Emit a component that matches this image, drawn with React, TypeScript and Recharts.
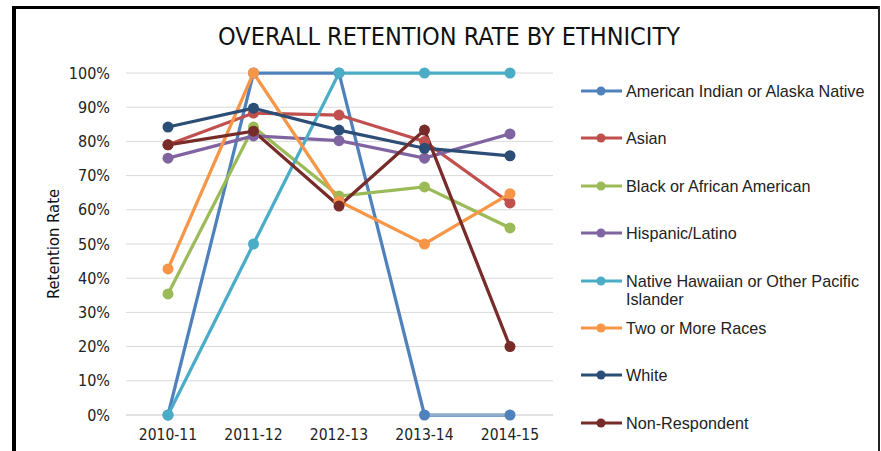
import React from 'react';
import { LineChart, Line, XAxis, YAxis, CartesianGrid, Legend } from 'recharts';

const years = ['2010-11', '2011-12', '2012-13', '2013-14', '2014-15'];
const americanIndian = [0, 100, 100, 0, 0];
const asian = [79, 88.3, 87.7, 80, 62];
const black = [35.4, 84.2, 64, 66.7, 54.7];
const hispanic = [75.1, 81.6, 80.2, 75.1, 82.2];
const nativeHawaiian = [0, 50, 100, 100, 100];
const twoOrMore = [42.7, 100, 62.5, 50, 64.7];
const white = [84.2, 89.7, 83.3, 78, 75.8];
const nonRespondent = [79, 83, 61.1, 83.3, 20];

const seriesNames = [
  'American Indian or Alaska Native',
  'Asian',
  'Black or African American',
  'Hispanic/Latino',
  'Native Hawaiian or Other Pacific Islander',
  'Two or More Races',
  'White',
  'Non-Respondent',
];
const seriesValues = [americanIndian, asian, black, hispanic, nativeHawaiian, twoOrMore, white, nonRespondent];
const seriesColors = ['#4F81BD', '#C0504D', '#9BBB59', '#8064A2', '#4BACC6', '#F79646', '#2C4D75', '#772C2A'];
const yTicks = [0, 10, 20, 30, 40, 50, 60, 70, 80, 90, 100];

const data = years.map((year, i) => {
  const row: Record<string, any> = { year };
  seriesValues.forEach((vals, s) => {
    row['s' + s] = vals[i];
  });
  return row;
});

const FONT = "'Liberation Sans Narrow', 'DejaVu Sans Condensed', 'Liberation Sans', sans-serif";
const LEGEND_FONT = "'Liberation Sans', 'DejaVu Sans', sans-serif";

const LegendContent = () => (
  <div style={{ position: 'relative', width: 300, height: 360 }}>
    {seriesNames.map((name, i) => (
      <div
        key={name}
        style={{
          position: 'absolute',
          left: 0,
          top: i * 47.4,
          display: 'flex',
          alignItems: 'flex-start',
        }}
      >
        <svg width={48} height={18} style={{ flex: 'none' }}>
          <line x1={3} y1={9} x2={44} y2={9} stroke={seriesColors[i]} strokeWidth={3} />
          <circle cx={23} cy={9} r={4.5} fill={seriesColors[i]} />
        </svg>
        <div
          style={{
            width: 252,
            fontFamily: LEGEND_FONT,
            fontSize: 16.2,
            lineHeight: '18px',
            color: '#222',
          }}
        >
          {name}
        </div>
      </div>
    ))}
  </div>
);

export default function App() {
  return (
    <div style={{ position: 'absolute', left: 0, top: 0, width: 881, height: 451, background: '#fff', overflow: 'hidden' }}>
      <div style={{ position: 'absolute', left: 12, top: 6, width: 4, height: 445, background: '#000' }} />
      <div style={{ position: 'absolute', left: 12, top: 6, width: 868, height: 3, background: '#000' }} />
      <div style={{ position: 'absolute', left: 878, top: 6, width: 2, height: 445, background: '#222' }} />
      <div
        style={{
          position: 'absolute',
          left: 0,
          top: 21,
          width: 898,
          textAlign: 'center',
          fontFamily: FONT,
          fontSize: 25,
          lineHeight: '32px',
          color: '#111',
          whiteSpace: 'nowrap',
        }}
      >
        OVERALL RETENTION RATE BY ETHNICITY
      </div>
      <div style={{ position: 'absolute', left: 0, top: 0 }}>
        <LineChart width={881} height={451} data={data} margin={{ top: 73, right: 328, bottom: 6, left: 40 }}>
          <CartesianGrid vertical={false} stroke="#D9D9D9" strokeWidth={1} />
          <XAxis
            dataKey="year"
            padding={{ left: 42, right: 43 }}
            axisLine={{ stroke: '#D9D9D9' }}
            tickLine={false}
            tickSize={0}
            tickMargin={14}
            height={30}
            tick={{ fontFamily: FONT, fontSize: 15.5, fill: '#222' }}
          />
          <YAxis
            domain={[0, 100]}
            ticks={yTicks}
            tickFormatter={(v: number) => `${v}%`}
            axisLine={false}
            tickLine={false}
            tickSize={0}
            tickMargin={16}
            width={86}
            tick={{ fontFamily: FONT, fontSize: 16, fill: '#222' }}
            label={{
              value: 'Retention Rate',
              angle: -90,
              position: 'insideLeft',
              offset: 13,
              style: { fontFamily: FONT, fontSize: 16.5, fill: '#111', textAnchor: 'middle' },
            }}
          />
          <Legend
            layout="horizontal"
            verticalAlign="middle"
            align="center"
            wrapperStyle={{ left: 578, top: 82, width: 300, height: 360 }}
            content={() => <LegendContent />}
          />
          {seriesNames.map((name, i) => (
            <Line
              key={name}
              type="linear"
              dataKey={'s' + i}
              name={name}
              stroke={seriesColors[i]}
              strokeWidth={3.25}
              dot={{ r: 5.5, fill: seriesColors[i], stroke: seriesColors[i], strokeWidth: 0 }}
              activeDot={false}
              isAnimationActive={false}
            />
          ))}
        </LineChart>
      </div>
    </div>
  );
}
